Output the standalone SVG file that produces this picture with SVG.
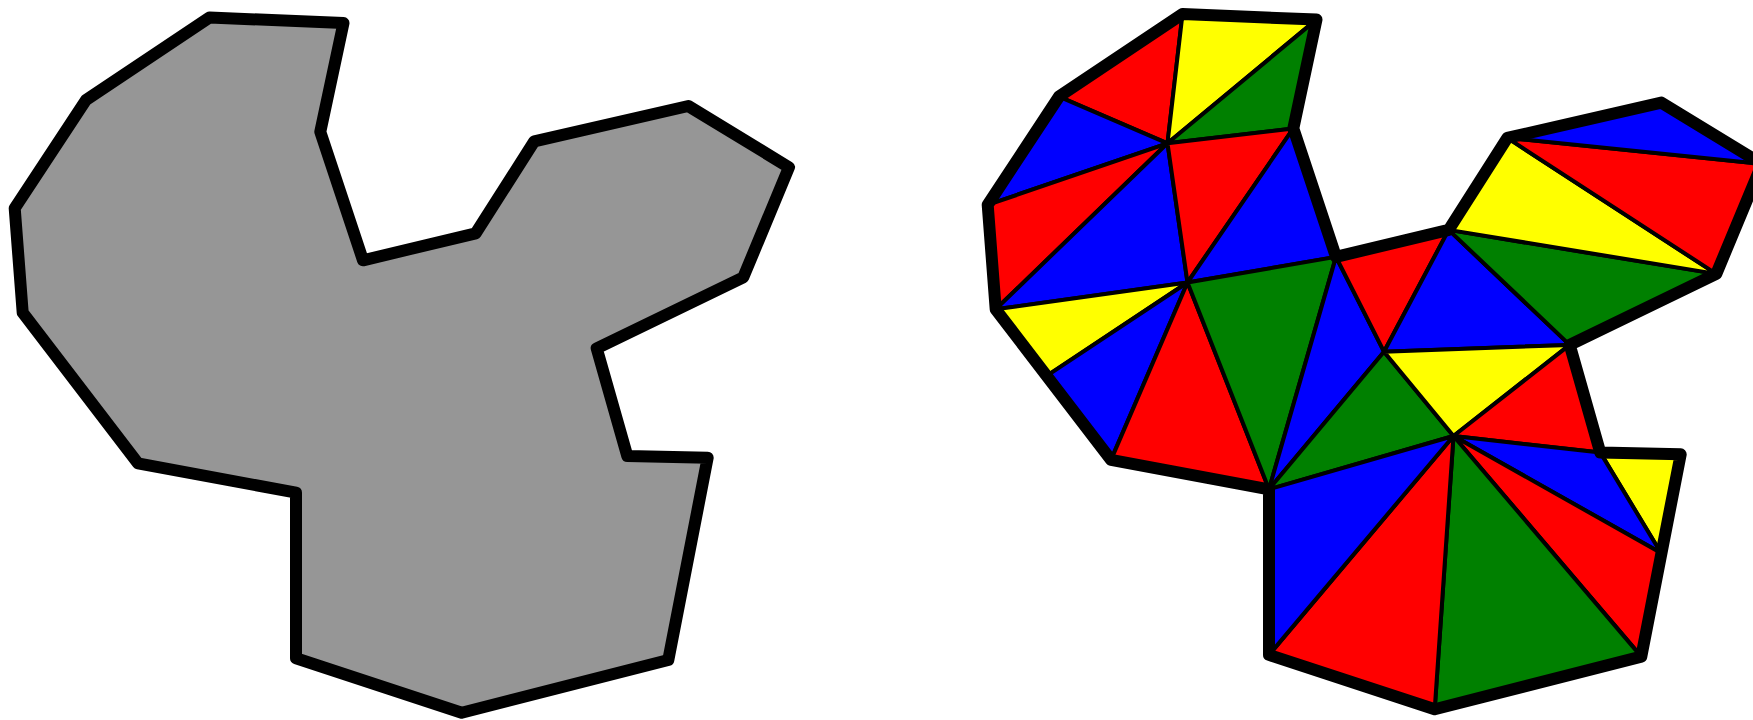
<svg xmlns="http://www.w3.org/2000/svg" width="1753" height="720" viewBox="0 0 1753 720">
<style>
.outline{fill:none;stroke:#000;stroke-width:12;stroke-linejoin:round}
.t{stroke:#000;stroke-width:4;stroke-linejoin:round}
.r{fill:#ff0000}.y{fill:#ffff00}.g{fill:#008000}.b{fill:#0000ff}
</style>
<rect width="1753" height="720" fill="#fff"/>
<g id="gray-polygon">
<polygon points="209.5,17.5 343.5,23 320.3,131.8 363,260.3 475.7,233.3 534.3,141.3 688.3,106 789,167.3 743.3,277.3 596.7,348.3 627.3,456 707.7,457.7 668.3,660 461.7,712.7 296,658.3 296,492.7 138,463.3 22.7,312.7 14.7,208.3 86,100" fill="#969696" stroke="#000" stroke-width="12" stroke-linejoin="round"/>
</g>
<g id="triangulation">
<polygon class="t r" points="1059,96.6 1182.5,14.1 1167.5,143.3"/>
<polygon class="t y" points="1182.5,14.1 1316.5,19.6 1167.5,143.3"/>
<polygon class="t g" points="1316.5,19.6 1293.3,128.4 1167.5,143.3"/>
<polygon class="t b" points="1059,96.6 1167.5,143.3 987.7,204.9"/>
<polygon class="t r" points="987.7,204.9 1167.5,143.3 995.7,309.3"/>
<polygon class="t b" points="995.7,309.3 1167.5,143.3 1187.5,282.5"/>
<polygon class="t r" points="1167.5,143.3 1293.3,128.4 1187.5,282.5"/>
<polygon class="t b" points="1293.3,128.4 1336,256.9 1187.5,282.5"/>
<polygon class="t y" points="995.7,309.3 1187.5,282.5 1046.7,375.9"/>
<polygon class="t b" points="1046.7,375.9 1187.5,282.5 1111,459.9"/>
<polygon class="t r" points="1187.5,282.5 1111,459.9 1269,489.3"/>
<polygon class="t g" points="1187.5,282.5 1269,489.3 1336,256.9"/>
<polygon class="t b" points="1336,256.9 1384,351.7 1269,489.3"/>
<polygon class="t g" points="1269,489.3 1384,351.7 1453.5,436"/>
<polygon class="t r" points="1336,256.9 1448.7,229.9 1384,351.7"/>
<polygon class="t b" points="1448.7,229.9 1569.7,344.9 1384,351.7"/>
<polygon class="t y" points="1384,351.7 1569.7,344.9 1453.5,436"/>
<polygon class="t g" points="1448.7,229.9 1716.3,273.9 1569.7,344.9"/>
<polygon class="t y" points="1448.7,229.9 1507.3,137.9 1716.3,273.9"/>
<polygon class="t r" points="1507.3,137.9 1762,163.9 1716.3,273.9"/>
<polygon class="t b" points="1507.3,137.9 1661.3,102.6 1762,163.9"/>
<polygon class="t r" points="1453.5,436 1569.7,344.9 1600.3,452.6"/>
<polygon class="t y" points="1600.3,452.6 1680.7,454.3 1661,553"/>
<polygon class="t b" points="1453.5,436 1600.3,452.6 1661,553"/>
<polygon class="t r" points="1453.5,436 1661,553 1641.3,656.6"/>
<polygon class="t g" points="1453.5,436 1641.3,656.6 1434.7,709.3"/>
<polygon class="t r" points="1453.5,436 1434.7,709.3 1269,654.9"/>
<polygon class="t b" points="1453.5,436 1269,654.9 1269,489.3"/>
<polygon class="outline" points="1182.5,14.1 1316.5,19.6 1293.3,128.4 1336,256.9 1448.7,229.9 1507.3,137.9 1661.3,102.6 1762,163.9 1716.3,273.9 1569.7,344.9 1600.3,452.6 1680.7,454.3 1641.3,656.6 1434.7,709.3 1269,654.9 1269,489.3 1111,459.9 995.7,309.3 987.7,204.9 1059,96.6"/>
</g>
</svg>
